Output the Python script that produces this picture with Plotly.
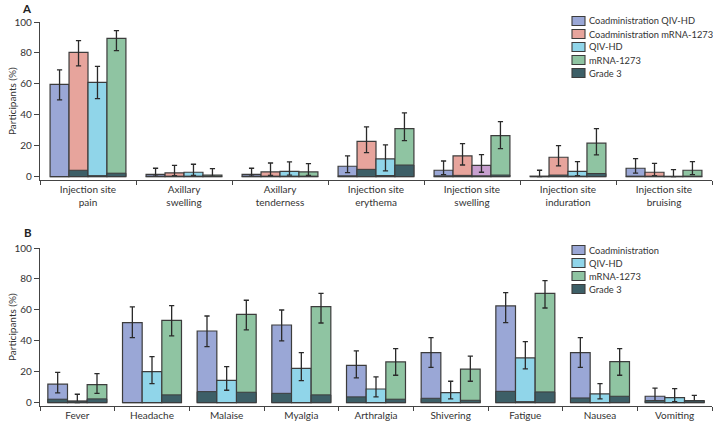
import plotly.graph_objects as go

# ---------------- Panel A data ----------------
cats_a = ["Injection site<br>pain", "Axillary<br>swelling", "Axillary<br>tenderness",
          "Injection site<br>erythema", "Injection site<br>swelling",
          "Injection site<br>induration", "Injection site<br>bruising"]
a_coqiv = [59.7, 1.5, 1.5, 6.7, 4.1, 0.3, 5.4]
a_coqiv_hi = [69.0, 5.4, 5.4, 13.4, 10.1, 4.1, 11.6]
a_coqiv_lo = [49.6, 0.3, 0.3, 2.6, 1.3, 0.0, 2.2]
a_coqiv_g3 = [0.0, 0.3, 0.3, 0.5, 0.5, 0.0, 0.3]

a_comrna = [80.4, 2.4, 3.0, 22.8, 13.4, 12.5, 2.8]
a_comrna_hi = [87.9, 7.3, 8.8, 32.1, 21.3, 20.0, 8.6]
a_comrna_lo = [71.6, 0.6, 0.8, 15.5, 7.5, 6.9, 0.6]
a_comrna_g3 = [4.1, 0.3, 0.3, 4.7, 0.8, 1.0, 0.3]

a_qiv = [61.0, 2.8, 3.4, 11.4, 7.3, 3.4, 0.2]
a_qiv_hi = [71.3, 8.0, 9.5, 20.5, 14.2, 9.7, 4.5]
a_qiv_lo = [50.4, 0.7, 0.9, 3.7, 2.8, 0.6, 0.0]
a_qiv_g3 = [0.6, 0.3, 0.3, 0.7, 0.5, 0.3, 0.0]

a_mrna = [89.4, 0.9, 3.0, 31.0, 26.5, 21.6, 4.1]
a_mrna_hi = [94.4, 5.2, 8.4, 41.2, 35.6, 31.0, 9.7]
a_mrna_lo = [81.5, 0.2, 0.8, 23.3, 18.1, 14.0, 1.3]
a_mrna_g3 = [2.2, 0.2, 0.3, 7.5, 1.0, 2.0, 0.3]

legend_a = ["Coadministration QIV-HD", "Coadministration mRNA-1273", "QIV-HD", "mRNA-1273", "Grade 3"]

# ---------------- Panel B data ----------------
cats_b = ["Fever", "Headache", "Malaise", "Myalgia", "Arthralgia",
          "Shivering", "Fatigue", "Nausea", "Vomiting"]
b_co = [11.9, 51.7, 46.3, 50.2, 24.1, 32.3, 62.5, 32.3, 4.1]
b_co_hi = [19.6, 61.9, 56.0, 59.9, 33.4, 42.0, 71.1, 42.0, 9.3]
b_co_lo = [6.3, 42.0, 36.2, 39.9, 16.0, 22.8, 51.7, 22.8, 1.1]
b_co_g3 = [2.2, 0.0, 7.1, 6.0, 3.7, 2.8, 7.3, 3.0, 1.3]

b_qiv = [0.9, 20.0, 14.4, 22.2, 8.8, 6.5, 28.9, 5.6, 3.2]
b_qiv_hi = [5.4, 29.7, 23.3, 32.3, 16.6, 13.8, 39.4, 12.3, 9.0]
b_qiv_lo = [0.0, 12.3, 8.0, 14.2, 3.7, 2.4, 21.8, 2.4, 0.6]
b_qiv_g3 = [0.9, 0.0, 0.0, 0.0, 0.0, 0.0, 0.6, 0.0, 0.0]

b_mrna = [11.6, 53.2, 57.1, 62.1, 26.3, 21.6, 70.7, 26.5, 1.3]
b_mrna_hi = [18.8, 62.7, 66.2, 70.7, 34.9, 30.0, 78.9, 34.9, 4.7]
b_mrna_lo = [6.0, 43.1, 47.0, 51.5, 17.7, 13.8, 61.2, 17.7, 0.6]
b_mrna_g3 = [2.4, 5.0, 6.7, 5.0, 2.2, 1.5, 6.9, 4.1, 1.1]

legend_b = ["Coadministration", "QIV-HD", "mRNA-1273", "Grade 3"]

C_COQIV = "#9aa7d6"
C_COMRNA = "#e7a49c"
C_QIV = "#90d5e9"
C_MRNA = "#8fc4a2"
C_G3 = "#3d5f67"
C_ODD = "#c8a0d0"   # off-colour bar in the original (injection site swelling, QIV-HD)
OUT = "#3c3c3c"
FONT = "Lato, 'Open Sans', sans-serif"
TXT = "#333333"

fig = go.Figure()


def add_series(x, y, hi, lo, g3, color, name, grp, xa, ya, colors=None):
    fig.add_trace(go.Bar(
        x=x, y=y, name=name, offsetgroup=grp, xaxis=xa, yaxis=ya,
        marker=dict(color=colors if colors else color, line=dict(color=OUT, width=1.2)),
        error_y=dict(type="data", symmetric=False,
                     array=[h - v for h, v in zip(hi, y)],
                     arrayminus=[v - l for v, l in zip(y, lo)],
                     color="#2a2a2a", thickness=1.3, width=2.6),
        showlegend=False))
    fig.add_trace(go.Bar(
        x=x, y=g3, name="Grade 3", offsetgroup=grp, xaxis=xa, yaxis=ya,
        marker=dict(color=C_G3, line=dict(color=OUT, width=1.0)),
        showlegend=False))


qiv_cols = [C_QIV] * len(cats_a)
qiv_cols[4] = C_ODD

add_series(cats_a, a_coqiv, a_coqiv_hi, a_coqiv_lo, a_coqiv_g3, C_COQIV, legend_a[0], "a1", "x", "y")
add_series(cats_a, a_comrna, a_comrna_hi, a_comrna_lo, a_comrna_g3, C_COMRNA, legend_a[1], "a2", "x", "y")
add_series(cats_a, a_qiv, a_qiv_hi, a_qiv_lo, a_qiv_g3, C_QIV, legend_a[2], "a3", "x", "y", colors=qiv_cols)
add_series(cats_a, a_mrna, a_mrna_hi, a_mrna_lo, a_mrna_g3, C_MRNA, legend_a[3], "a4", "x", "y")

add_series(cats_b, b_co, b_co_hi, b_co_lo, b_co_g3, C_COQIV, legend_b[0], "b1", "x2", "y2")
add_series(cats_b, b_qiv, b_qiv_hi, b_qiv_lo, b_qiv_g3, C_QIV, legend_b[1], "b2", "x2", "y2")
add_series(cats_b, b_mrna, b_mrna_hi, b_mrna_lo, b_mrna_g3, C_MRNA, legend_b[2], "b3", "x2", "y2")

W, H = 713, 422
ML, MR, MT, MB = 40, 1, 22, 16
pw = W - ML - MR
ph = H - MT - MB


def fx(px):
    return (px - ML) / pw


def fy(py):
    return (H - MB - py) / ph


A_BOT = 180
B_TOP = 248

xaxis_common = dict(showline=True, linecolor="#444", linewidth=1.2, ticks="outside",
                    ticklen=4, tickcolor="#444", tickwidth=1.2, automargin=False,
                    tickfont=dict(family=FONT, size=10, color=TXT), showgrid=False,
                    zeroline=False, type="category", tickson="boundaries")
yaxis_common = dict(showline=True, linecolor="#444", linewidth=1.2, ticks="outside",
                    ticklen=5, tickcolor="#444", tickwidth=1.2, automargin=False,
                    tickfont=dict(family=FONT, size=10, color=TXT), showgrid=False,
                    zeroline=False, range=[-2.2, 100], tickvals=[0, 20, 40, 60, 80, 100])

annotations = [
    dict(text="<b>A</b>", x=fx(27), y=fy(8.5)),
    dict(text="<b>B</b>", x=fx(28), y=fy(232)),
    dict(text="Participants (%)", x=fx(12), y=fy((22 + A_BOT) / 2), textangle=-90),
    dict(text="Participants (%)", x=fx(12), y=fy((B_TOP + H - MB) / 2), textangle=-90),
]
for ann in annotations:
    ann.update(xref="paper", yref="paper", showarrow=False, xanchor="center", yanchor="middle")
    if ann["text"].startswith("<b>"):
        ann["font"] = dict(family=FONT, size=11.5, color="#222")
    else:
        ann["font"] = dict(family=FONT, size=10, color=TXT)

# manual legends (compact, as in the original figure)
shapes = []
legend_specs = [
    (legend_a, [C_COQIV, C_COMRNA, C_QIV, C_MRNA, C_G3], 21),
    (legend_b, [C_COQIV, C_QIV, C_MRNA, C_G3], 250),
]
for names, cols, y0 in legend_specs:
    for i, (nm, col) in enumerate(zip(names, cols)):
        yc = y0 + 13 * i
        shapes.append(dict(type="rect", xref="paper", yref="paper",
                           x0=fx(572), x1=fx(585), y0=fy(yc + 4.5), y1=fy(yc - 4.5),
                           fillcolor=col, line=dict(color=OUT, width=1.1)))
        annotations.append(dict(text=nm, xref="paper", yref="paper", x=fx(587), y=fy(yc),
                                xanchor="left", yanchor="middle", showarrow=False,
                                font=dict(family=FONT, size=9.3, color=TXT)))

fig.update_layout(
    width=W, height=H,
    margin=dict(l=ML, r=MR, t=MT, b=MB, autoexpand=False),
    paper_bgcolor="white", plot_bgcolor="white",
    barmode="group", bargap=0.21, bargroupgap=0,
    font=dict(family=FONT, size=10, color=TXT),
    showlegend=False,
    xaxis=dict(domain=[0, 1], anchor="y", **xaxis_common),
    yaxis=dict(domain=[fy(A_BOT), 1], anchor="x", **yaxis_common),
    xaxis2=dict(domain=[0, 1], anchor="y2", **xaxis_common),
    yaxis2=dict(domain=[0, fy(B_TOP)], anchor="x2", **yaxis_common),
    annotations=annotations,
    shapes=shapes,
)

fig.write_html("out.html", config={"displayModeBar": False},
               post_script="document.body.style.margin='0';document.body.style.overflow='hidden';")
